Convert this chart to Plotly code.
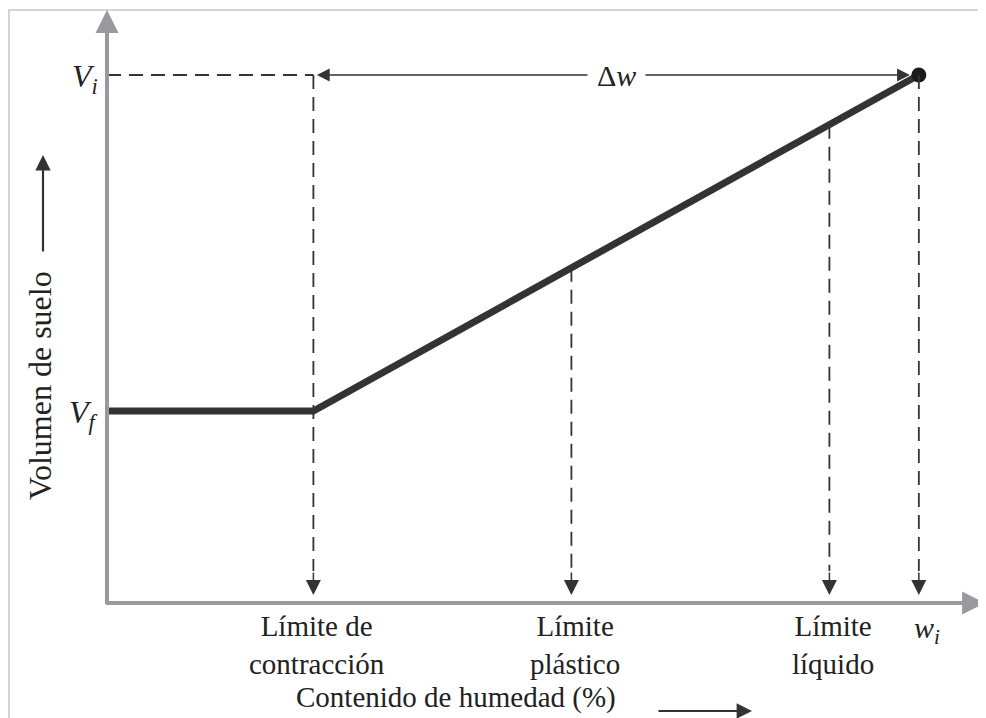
import plotly.graph_objects as go
import numpy as np

# --- data ---
limit_labels = ["Límite de<br>contracción", "Límite<br>plástico", "Límite<br>líquido"]
limit_w = [12, 27, 42]          # contenido de humedad en cada límite
w_i = 47.2                      # contenido de humedad inicial
V_f = 4                         # volumen final
V_i = 11                        # volumen inicial
curve_w = [0, 12, 47.2]
curve_v = [4, 4, 11]

W, H = 986, 718                 # browser window
OFF = 8                         # default body margin of the page
FW, FH = W - OFF, H - OFF       # figure size
FONT = "Liberation Serif"
INK = "#333333"
TXT = "#222222"
AXIS = "#9a9a9e"

# pixel scale of the drawing (window pixels)
x0_px, px_per_w = 107, 17.2
y0_px, px_per_v = 603, 48
xr = [-(x0_px - OFF) / px_per_w, (W - x0_px) / px_per_w]
yr = [-(H - y0_px) / px_per_v, (y0_px - OFF) / px_per_v]


def px(x):
    return (x - OFF) / FW


def py(y):
    return 1 - (y - OFF) / FH


fig = go.Figure()

# curve
fig.add_trace(go.Scatter(x=curve_w, y=curve_v, mode="lines",
                         line=dict(color=INK, width=7), hoverinfo="skip"))
fig.add_trace(go.Scatter(x=[w_i], y=[V_i], mode="markers",
                         marker=dict(size=15, color="#1a1a1a"), hoverinfo="skip"))

dash = dict(color=INK, width=1.8, dash="14px,8px")
tip_v = 8 / px_per_v          # arrow tips just above the axis
tail_px = 24

# horizontal dashed line at V_i
fig.add_trace(go.Scatter(x=[0, limit_w[0]], y=[V_i, V_i], mode="lines",
                         line=dash, hoverinfo="skip"))

# vertical dashed lines down to the w axis
for w in limit_w + [w_i]:
    top = V_i if w in (limit_w[0], w_i) else float(np.interp(w, curve_w, curve_v))
    fig.add_trace(go.Scatter(x=[w, w], y=[top, tip_v + tail_px / px_per_v], mode="lines",
                             line=dash, hoverinfo="skip"))
    fig.add_annotation(x=w, y=tip_v, xref="x", yref="y", text="", showarrow=True,
                       ax=0, ay=-tail_px, arrowhead=2, arrowsize=2.0,
                       arrowwidth=1.5, arrowcolor=INK)

# axes with arrow heads
fig.add_annotation(x=xr[1] - 0.05, y=0, ax=-0.15, ay=0, xref="x", yref="y",
                   axref="x", ayref="y", text="", showarrow=True, arrowhead=2,
                   arrowsize=1.15, arrowwidth=4, arrowcolor=AXIS)
fig.add_annotation(x=0, y=(y0_px - 10) / px_per_v, ax=0, ay=-0.05, xref="x", yref="y",
                   axref="x", ayref="y", text="", showarrow=True, arrowhead=2,
                   arrowsize=1.15, arrowwidth=4, arrowcolor=AXIS)

# delta w double arrow
fig.add_annotation(x=w_i, y=V_i, ax=limit_w[0], ay=V_i, xref="x", yref="y",
                   axref="x", ayref="y", text="", showarrow=True,
                   arrowside="end+start", arrowhead=2, startarrowhead=2,
                   arrowsize=1.6, startarrowsize=1.6, arrowwidth=1.6,
                   standoff=9, startstandoff=2, arrowcolor=INK)
fig.add_annotation(x=(limit_w[0] + w_i) / 2, y=V_i, xref="x", yref="y",
                   text="Δ<i>w</i>", showarrow=False, bgcolor="white",
                   borderpad=9, xshift=0,
                   font=dict(family=FONT, size=30, color=TXT))

# V labels
for txt, v in [("<i>V</i><sub><i>i</i></sub>", V_i), ("<i>V</i><sub><i>f</i></sub>", V_f)]:
    fig.add_annotation(x=0, y=v, xref="x", yref="y", text=txt, showarrow=False,
                       xanchor="right", xshift=-7, yshift=-3,
                       font=dict(family=FONT, size=32, color=TXT))

# limit labels under the axis
for txt, w in zip(limit_labels, limit_w):
    fig.add_annotation(x=w, y=0, xref="x", yref="y", text=txt, showarrow=False,
                       yanchor="top", yshift=-5, xshift=4,
                       font=dict(family=FONT, size=29, color=TXT))
fig.add_annotation(x=w_i, y=0, xref="x", yref="y", text="<i>w</i><sub><i>i</i></sub>",
                   showarrow=False, yanchor="top", yshift=-6, xshift=8,
                   font=dict(family=FONT, size=30, color=TXT))

# axis titles with their arrows
fig.add_annotation(x=px(456), y=py(697), xref="paper", yref="paper",
                   xanchor="center", yanchor="middle",
                   text="Contenido de humedad (%)", showarrow=False,
                   font=dict(family=FONT, size=29, color=TXT))
fig.add_annotation(x=px(752), y=py(711), xref="paper", yref="paper", text="",
                   showarrow=True, ax=-95, ay=0, arrowhead=2, arrowsize=1.4,
                   arrowwidth=2.2, arrowcolor=INK)
fig.add_annotation(x=px(40), y=py(386), xref="paper", yref="paper",
                   xanchor="center", yanchor="middle",
                   text="Volumen de suelo", textangle=-90, showarrow=False,
                   font=dict(family=FONT, size=32, color=TXT))
fig.add_annotation(x=px(43), y=py(155), xref="paper", yref="paper", text="",
                   showarrow=True, ax=0, ay=98, arrowhead=2, arrowsize=1.4,
                   arrowwidth=2.2, arrowcolor=INK)

# light frame of the original page
fig.add_shape(type="path", xref="paper", yref="paper",
              path=f"M {px(9)},0 L {px(9)},{py(10)} L {px(982)},{py(10)}",
              line=dict(color="#d4d4d4", width=2))

fig.update_xaxes(visible=False, range=xr)
fig.update_yaxes(visible=False, range=yr)
fig.update_layout(width=FW, height=FH, margin=dict(l=0, r=0, t=0, b=0),
                  plot_bgcolor="white", paper_bgcolor="white", showlegend=False)

fig.write_html("out.html")
